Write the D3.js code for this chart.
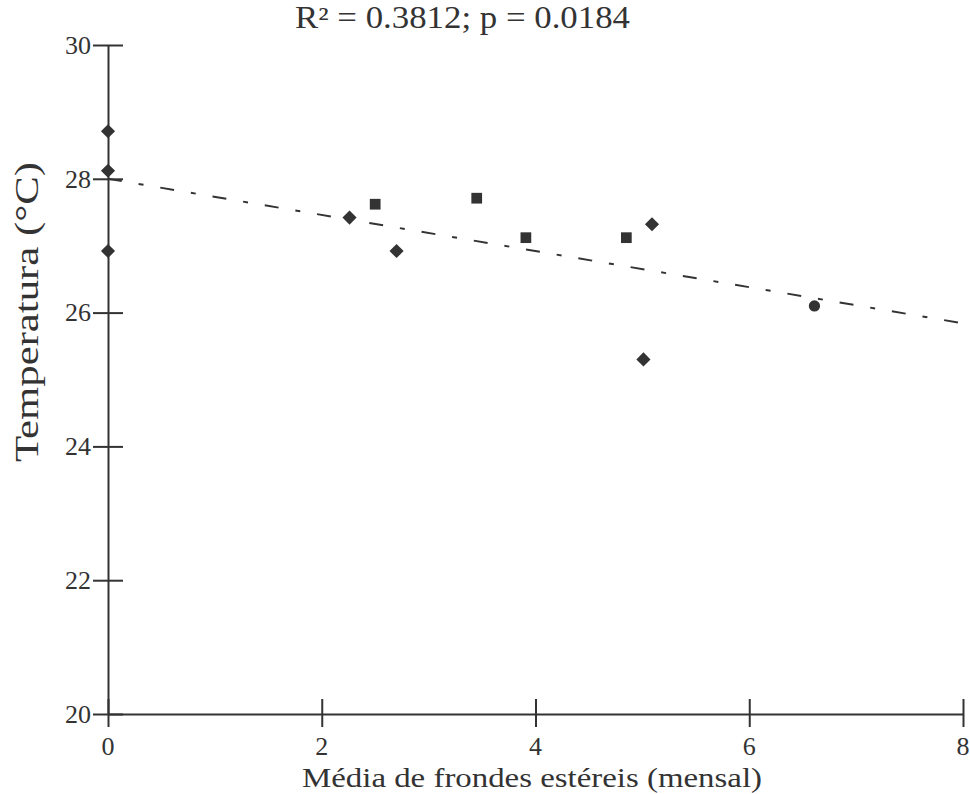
<!DOCTYPE html>
<html>
<head>
<meta charset="utf-8">
<script src="https://cdn.jsdelivr.net/npm/d3@7.9.0/dist/d3.min.js"></script>
<style>
  html, body { margin: 0; padding: 0; background: #fff; }
  svg { display: block; }
</style>
</head>
<body>
<svg width="970" height="794"></svg>
<script>
// data
const frondes = [0, 0, 0, 2.26, 2.50, 2.70, 3.45, 3.91, 4.85, 5.09, 5.01, 6.61];
const temperatura = [28.71, 28.12, 26.92, 27.42, 27.62, 26.92, 27.71, 27.12, 27.12, 27.32, 25.30, 26.10];
const markerShapes = ["diamond", "diamond", "diamond", "diamond", "square", "diamond",
                      "square", "square", "square", "diamond", "diamond", "circle"];
const xTicks = [0, 2, 4, 6, 8];
const yTicks = [20, 22, 24, 26, 28, 30];
const fitIntercept = 28.0;
const fitSlope = -0.27;
const title = "R² = 0.3812; p = 0.0184";
const xTitle = "Média de frondes estéreis (mensal)";
const yTitle = "Temperatura (°C)";

const ink = "#333";
const font = "'Liberation Serif', 'DejaVu Serif', serif";

let svg = d3.select("svg");
let x = d3.scaleLinear().domain([0, 8]).range([108, 963]);
let y = d3.scaleLinear().domain([20, 30]).range([714, 45]);

// axes: ticks cross the axis line on both sides
let xAxis = d3.axisBottom(x).tickValues(xTicks).tickSize(0).tickFormat("");
let yAxis = d3.axisLeft(y).tickValues(yTicks).tickSize(0).tickFormat("");

let gx = svg.append("g").attr("transform", `translate(0,${y(20)})`).call(xAxis);
let gy = svg.append("g").attr("transform", `translate(${x(0)},0)`).call(yAxis);
gx.select(".domain").attr("stroke", ink).attr("stroke-width", 2);
gy.select(".domain").attr("stroke", ink).attr("stroke-width", 2);

gx.selectAll(".tick").append("line")
    .attr("y1", -15).attr("y2", 13)
    .attr("stroke", ink).attr("stroke-width", 2);
gy.selectAll(".tick").append("line")
    .attr("x1", -15).attr("x2", 15)
    .attr("stroke", ink).attr("stroke-width", 2);

// tick labels
svg.append("g").selectAll("text")
    .data(xTicks)
    .enter().append("text")
    .attr("x", d => x(d))
    .attr("y", 755)
    .attr("text-anchor", "middle")
    .attr("font-family", font)
    .attr("font-size", 26)
    .attr("fill", ink)
    .text(d => d);

svg.append("g").selectAll("text")
    .data(yTicks)
    .enter().append("text")
    .attr("x", 91)
    .attr("y", d => y(d))
    .attr("dy", "0.34em")
    .attr("text-anchor", "end")
    .attr("font-family", font)
    .attr("font-size", 26)
    .attr("fill", ink)
    .text(d => d);

// regression line, long-short dash
let line = d3.line().x(d => x(d)).y(d => y(fitIntercept + fitSlope * d));
svg.append("path")
    .datum([0, 8])
    .attr("d", line)
    .attr("fill", "none")
    .attr("stroke", ink)
    .attr("stroke-width", 2)
    .attr("stroke-dasharray", "14,17,5,17");

// points: diamonds are rotated squares, like the reference
const symbols = { diamond: d3.symbolSquare, square: d3.symbolSquare, circle: d3.symbolCircle };
const sizes = { diamond: 100, square: 115, circle: 100 };
svg.append("g").selectAll("path")
    .data(frondes.map((f, i) => ({ x: f, y: temperatura[i], shape: markerShapes[i] })))
    .enter().append("path")
    .attr("transform", d => `translate(${x(d.x)},${y(d.y)})` + (d.shape === "diamond" ? " rotate(45)" : ""))
    .attr("d", d => d3.symbol().type(symbols[d.shape]).size(sizes[d.shape])())
    .attr("fill", ink);

// titles
svg.append("text")
    .attr("x", 295).attr("y", 28)
    .attr("font-family", font).attr("font-size", 31)
    .attr("fill", ink)
    .attr("textLength", 335).attr("lengthAdjust", "spacingAndGlyphs")
    .text(title);

svg.append("text")
    .attr("x", 302).attr("y", 787)
    .attr("font-family", font).attr("font-size", 27)
    .attr("fill", ink)
    .attr("textLength", 460).attr("lengthAdjust", "spacingAndGlyphs")
    .text(xTitle);

svg.append("text")
    .attr("transform", "translate(38,462) rotate(-90)")
    .attr("font-family", font).attr("font-size", 33)
    .attr("fill", ink)
    .attr("textLength", 300).attr("lengthAdjust", "spacingAndGlyphs")
    .text(yTitle);
</script>
</body>
</html>
